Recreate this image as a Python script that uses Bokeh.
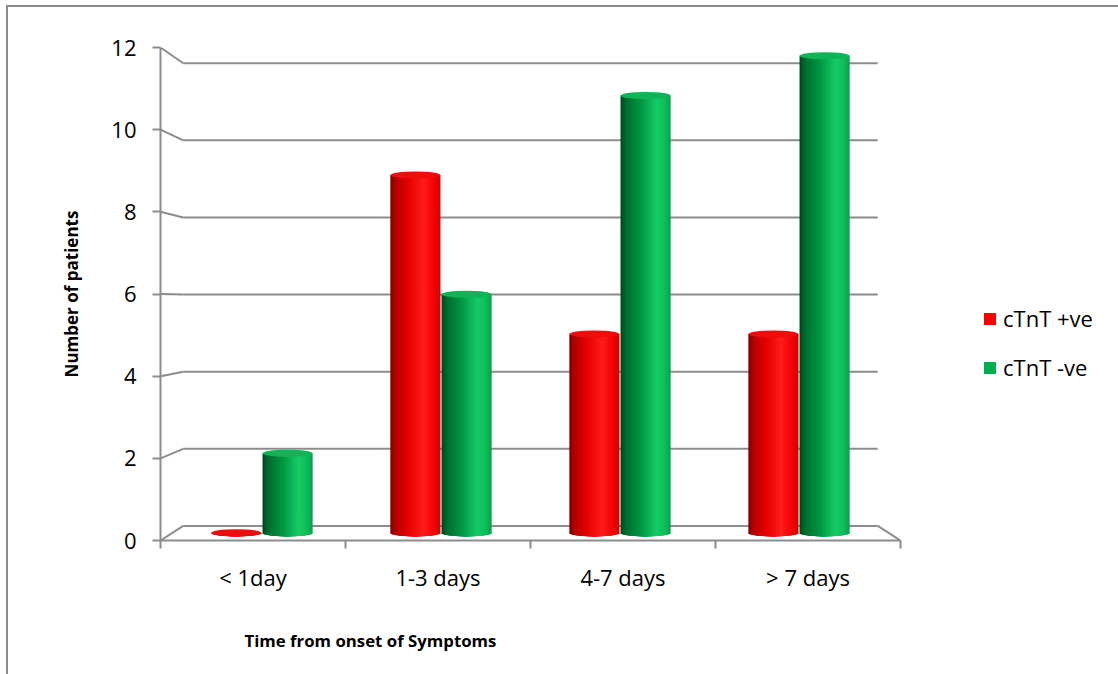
import numpy as np
from bokeh.plotting import figure
from bokeh.models import Range1d, LinearAxis, FixedTicker, Legend, LegendItem, Title
from bokeh.embed import file_html
from bokeh.resources import INLINE

# ---- data ----
categories = ["< 1day", "1-3 days", "4-7 days", "> 7 days"]
ctnt_pos = [0, 9, 5, 5]      # cTnT +ve
ctnt_neg = [2, 6, 11, 12]    # cTnT -ve
series_names = ["cTnT +ve", "cTnT -ve"]
y_ticks = [0, 2, 4, 6, 8, 10, 12]

# ---- 3-D look: bars stand on a middle plane, axes are in front, wall behind ----
N_CAT = len(categories)
Y_MAX = y_ticks[-1]
CX = N_CAT / 2          # horizontal vanishing centre (data units)
CY = 5.77               # vertical vanishing centre (data units)
S_FRONT = 1.0335
S_BACK = 0.97

GRID = "#8c8c8c"
FONT = "Open Sans"


def depth_x(x, s):
    return CX + s * (np.asarray(x, dtype=float) - CX)


def depth_y(y, s):
    return CY + s * (np.asarray(y, dtype=float) - CY)


p = figure(
    x_range=Range1d(float(depth_x(0, S_FRONT)), float(depth_x(N_CAT, S_FRONT))),
    y_range=Range1d(float(depth_y(0, S_FRONT)), float(depth_y(Y_MAX, S_FRONT))),
    frame_width=740, frame_height=493,
    min_border_left=152, min_border_top=40, min_border_right=218, min_border_bottom=134,
    output_backend="svg", toolbar_location=None,
    x_axis_location=None, y_axis_location=None,
    outline_line_color=None, background_fill_color="white", border_fill_color="white",
    styles={"margin-left": "6px", "margin-top": "5px",
            "border-top": "2px solid #8a8a8a", "border-left": "2px solid #8a8a8a"},
)
p.xgrid.visible = False
p.ygrid.visible = False

# front axes live on their own ranges spanning the frame exactly
p.extra_x_ranges = {"front": Range1d(0, N_CAT)}
p.extra_y_ranges = {"front": Range1d(0, Y_MAX)}

yaxis = LinearAxis(
    y_range_name="front", ticker=FixedTicker(ticks=y_ticks, minor_ticks=[]),
    axis_line_color=GRID, axis_line_width=2,
    major_tick_line_color=GRID, major_tick_line_width=2, major_tick_in=0, major_tick_out=8,
    minor_tick_line_color=None,
    major_label_text_font=FONT, major_label_text_font_size="22px", major_label_text_color="black",
    major_label_standoff=16,
    axis_label="Number of patients", axis_label_text_font=FONT, axis_label_text_font_size="17px",
    axis_label_text_font_style="bold", axis_label_text_color="black", axis_label_standoff=25,
)
p.add_layout(yaxis, "left")

centers = [i + 0.5 for i in range(N_CAT)]
xaxis = LinearAxis(
    x_range_name="front",
    ticker=FixedTicker(ticks=centers, minor_ticks=list(range(N_CAT + 1))),
    major_label_overrides={c: lab for c, lab in zip(centers, categories)},
    axis_line_color=GRID, axis_line_width=2,
    major_tick_line_color=None,
    minor_tick_line_color=GRID, minor_tick_line_width=2, minor_tick_in=0, minor_tick_out=8,
    major_label_text_font=FONT, major_label_text_font_size="22px", major_label_text_color="black",
    major_label_standoff=13,
)
p.add_layout(xaxis, "below")

p.add_layout(Title(text="Time from onset of Symptoms", align="left", offset=84,
                   text_font=FONT, text_font_size="16.8px", text_font_style="bold",
                   text_color="black", standoff=65), "below")

# ---- back wall grid lines with their slanted side edges ----
yt = np.array(y_ticks, dtype=float)
bx0, bx1 = float(depth_x(0, S_BACK)), float(depth_x(N_CAT, S_BACK))
fx0, fx1 = float(depth_x(0, S_FRONT)), float(depth_x(N_CAT, S_FRONT))
by = depth_y(yt, S_BACK)
fy = depth_y(yt, S_FRONT)
p.segment(x0=[bx0] * len(yt), y0=by, x1=[bx1] * len(yt), y1=by,
          line_color=GRID, line_width=2)
p.segment(x0=[fx0] * len(yt), y0=fy, x1=[bx0] * len(yt), y1=by,
          line_color=GRID, line_width=2)
# right edge of the floor
p.segment(x0=[bx1], y0=[float(depth_y(0, S_BACK))], x1=[fx1], y1=[float(depth_y(0, S_FRONT))],
          line_color=GRID, line_width=2)

# ---- cylinders ----
BAR_W = 0.28
OFFSETS = [-0.143, 0.143]
EH = 0.18            # ellipse height of the cylinder caps
N_HALF = 20          # shading bands per half cylinder

shades = [
    # red cylinder, left (shadow) to right
    [(0.0, "#7d0000"), (0.12, "#b80000"), (0.35, "#e60000"), (0.65, "#ff1c1c"),
     (0.85, "#f50505"), (1.0, "#d40000")],
    # green cylinder
    [(0.0, "#00461b"), (0.12, "#006e30"), (0.4, "#009644"), (0.72, "#14cc66"),
     (0.88, "#0ebd5a"), (1.0, "#07a14a")],
]
cap_colors = ["#ee0d0d", "#0fb457"]
legend_colors = ["#ff0000", "#00b050"]


def shade_at(stops, t):
    pos = [s[0] for s in stops]
    rgb = np.array([[int(c[1:3], 16), int(c[3:5], 16), int(c[5:7], 16)] for _, c in stops], float)
    r, g, b = (np.interp(t, pos, rgb[:, k]) for k in range(3))
    return "#%02x%02x%02x" % (int(round(r)), int(round(g)), int(round(b)))


# bands are layered from each outer edge towards the middle, so each one
# runs from its own edge to the centre line and overlaps the previous band
edge = np.arange(N_HALF) / N_HALF * 0.5           # distance from the outer edge (fraction of width)
band_t_left = edge + 0.5 / (2 * N_HALF)
band_t_right = 1 - band_t_left


def depth_of(t):
    return (EH / 2) * np.sqrt(np.clip(1 - (2 * t - 1) ** 2, 0, 1))


for k, values in reversed(list(enumerate([ctnt_pos, ctnt_neg]))):
    lefts, rights, tops, bottoms, cols = [], [], [], [], []
    cx = []
    for i, v in enumerate(values):
        c = i + 0.5 + OFFSETS[k]
        cx.append(c)
        x_left = c - BAR_W / 2
        x_right = c + BAR_W / 2
        for j in range(N_HALF):
            # left half band
            lefts.append(x_left + edge[j] * BAR_W)
            rights.append(c + 0.001)
            tops.append(v)
            bottoms.append(-depth_of(edge[j] + 1e-3 + 0.5 / N_HALF))
            cols.append(shade_at(shades[k], band_t_left[j]))
            # right half band
            lefts.append(c - 0.001)
            rights.append(x_right - edge[j] * BAR_W)
            tops.append(v)
            bottoms.append(-depth_of(1 - edge[j] - 1e-3 - 0.5 / N_HALF))
            cols.append(shade_at(shades[k], band_t_right[j]))
    p.quad(left=lefts, right=rights, top=tops, bottom=bottoms,
           fill_color=cols, line_color=None)
    p.ellipse(x=cx, y=values, width=BAR_W, height=EH,
              fill_color=cap_colors[k], line_color=None)

# legend swatches: zero-height bars at the origin, only their colour is used
leg_renderers = [p.vbar(x=[0], top=[0], bottom=[0], width=0.0, fill_color=c, line_color=None)
                 for c in legend_colors]
legend = Legend(
    items=[LegendItem(label=n, renderers=[r]) for n, r in zip(series_names, leg_renderers)],
    location=(82, 158), glyph_width=15, glyph_height=15, label_standoff=6,
    spacing=19, padding=0, margin=0, border_line_color=None, background_fill_alpha=0,
    label_text_font=FONT, label_text_font_size="22px", label_text_color="black",
)
p.add_layout(legend, "right")

open("out.html", "w").write(file_html(p, INLINE))
